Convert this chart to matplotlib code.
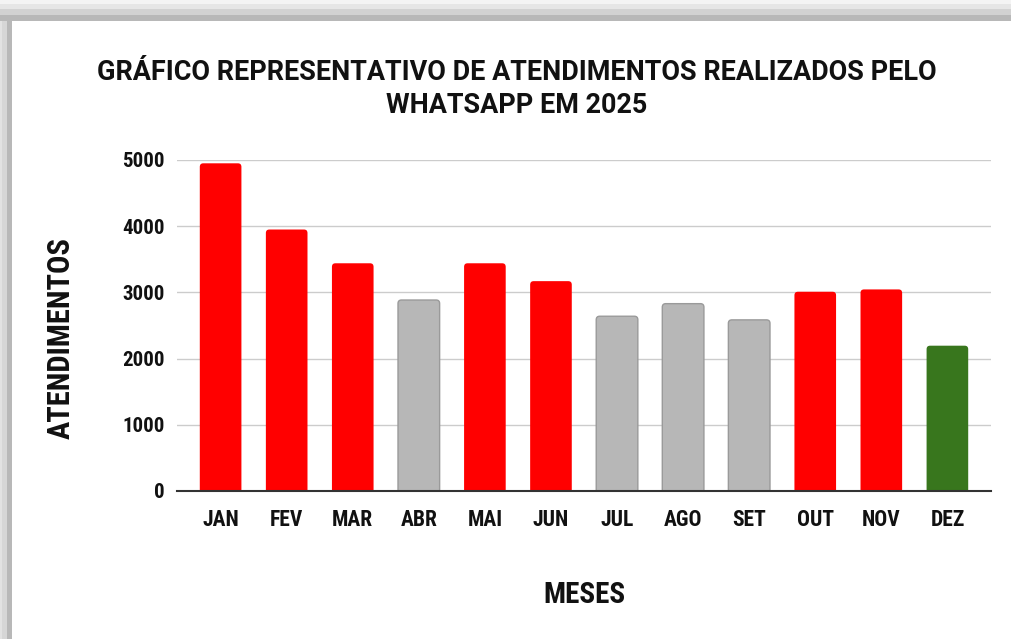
import matplotlib
matplotlib.use("Agg")
import matplotlib.pyplot as plt
from matplotlib.patches import Rectangle, FancyBboxPatch
from matplotlib import font_manager as fm

months = ["JAN", "FEV", "MAR", "ABR", "MAI", "JUN", "JUL", "AGO", "SET", "OUT", "NOV", "DEZ"]
values = [4950, 3950, 3440, 2885, 3440, 3170, 2640, 2830, 2585, 3010, 3045, 2195]
bar_colors = ["#FF0000", "#FF0000", "#FF0000", "#B7B7B7", "#FF0000", "#FF0000",
              "#B7B7B7", "#B7B7B7", "#B7B7B7", "#FF0000", "#FF0000", "#38761D"]
edge_colors = ["#FF0000", "#FF0000", "#FF0000", "#9A9A9A", "#FF0000", "#FF0000",
               "#9A9A9A", "#9A9A9A", "#9A9A9A", "#FF0000", "#FF0000", "#38761D"]
yticks = [0, 1000, 2000, 3000, 4000, 5000]
title = "GRÁFICO REPRESENTATIVO DE ATENDIMENTOS REALIZADOS PELO\nWHATSAPP EM 2025"
xlabel = "MESES"
ylabel = "ATENDIMENTOS"

names = {f.name for f in fm.fontManager.ttflist}
fam = [f for f in ["Liberation Sans Narrow", "Roboto Condensed", "Liberation Sans", "DejaVu Sans"] if f in names]
plt.rcParams["font.family"] = fam
title_fam = [f for f in ["Roboto", "Liberation Sans", "DejaVu Sans"] if f in names]

W, H = 1011, 639
fig = plt.figure(figsize=(W / 100, H / 100), dpi=100)
fig.patch.set_facecolor("white")

# frame/shadow bands
def band(x0, y0, x1, y1, color):
    fig.add_artist(Rectangle((x0 / W, 1 - y1 / H), (x1 - x0) / W, (y1 - y0) / H,
                             transform=fig.transFigure, facecolor=color, edgecolor="none", zorder=0))

band(0, 0, W, 4, "#f4f4f4")
band(0, 4, W, 9, "#e6e6e6")
band(0, 9, W, 15, "#d2d2d2")
band(0, 15, W, 21, "#b8b8b8")
band(0, 21, 2, H, "#e2e2e2")
band(2, 21, 7, H, "#d6d6d6")
band(7, 21, 12, H, "#b8b8b8")

L, R, T, B = 177, 991, 160, 491
ax = fig.add_axes([L / W, 1 - B / H, (R - L) / W, (B - T) / H])
ax.set_facecolor("none")

bars = ax.bar(range(len(months)), values, width=0.63, color=bar_colors, zorder=2)
ax.set_xlim(-0.66, len(months) - 1 + 0.66)
ax.set_ylim(0, 5000)

# rounded tops: replace each bar by a rounded box with same geometry
px_x = 1 / 66.5
px_y = 5000 / (B - T)
r = 3.5 * px_x
aspect = px_y / px_x
for b, fc, ec in zip(bars, bar_colors, edge_colors):
    x, w, h = b.get_x(), b.get_width(), b.get_height()
    b.set_visible(False)
    p = FancyBboxPatch((x, -200), w, h + 200,
                       boxstyle=f"round,pad=0,rounding_size={r}",
                       mutation_aspect=aspect, facecolor=fc, edgecolor=ec,
                       linewidth=1.0 if ec != fc else 0.0, zorder=2)
    ax.add_patch(p)

ax.set_yticks(yticks)
ax.set_yticklabels([str(v) for v in yticks])
ax.set_xticks(range(len(months)))
ax.set_xticklabels(months)
ax.grid(axis="y", color="#cccccc", linewidth=1.0, zorder=0)
ax.set_axisbelow(True)
for s in ["top", "right", "left"]:
    ax.spines[s].set_visible(False)
ax.spines["bottom"].set_color("#333333")
ax.spines["bottom"].set_linewidth(1.5)
ax.spines["bottom"].set_zorder(3)
ax.tick_params(axis="both", length=0)
ax.tick_params(axis="y", pad=9, labelsize=15)
ax.tick_params(axis="x", pad=13, labelsize=15.5)
for lab in ax.get_xticklabels() + ax.get_yticklabels():
    lab.set_fontweight("bold")
    lab.set_color("#111111")

t = fig.text(517 / W, 1 - 89 / H, title, ha="center", va="center", fontsize=18,
             fontweight="bold", color="#111111", linespacing=1.25, family=title_fam)
# fit title width to the reference (~841 px)
renderer = fig.canvas.get_renderer()
wpx = t.get_window_extent(renderer).width
t.set_fontsize(18 * 841 / wpx)

fig.text(584 / W, 1 - 595 / H, xlabel, ha="center", va="center", fontsize=21,
         fontweight="bold", color="#111111")
fig.text(61 / W, 1 - 338 / H, ylabel, ha="center", va="center", fontsize=22,
         fontweight="bold", color="#111111", rotation=90)

fig.savefig("out.png", dpi=100, facecolor="white")
